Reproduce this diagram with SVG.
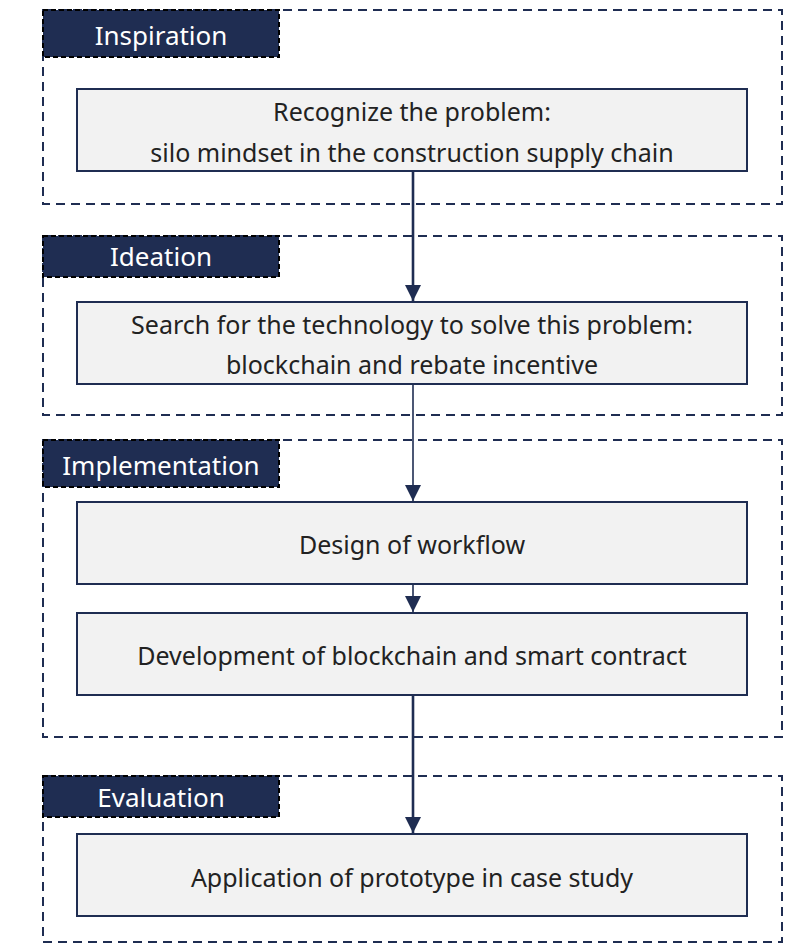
<svg xmlns="http://www.w3.org/2000/svg" width="787" height="949" viewBox="0 0 787 949">
  <defs>
    <style>
      .frame { fill: none; stroke: #1f2d52; stroke-width: 2; stroke-dasharray: 9 6; }
      .tag { fill: #1f2d52; stroke: #000; stroke-width: 2; stroke-dasharray: 5 3; }
      .tag-text { fill: #ffffff; font-family: "Noto Sans", "Open Sans", sans-serif; font-size: 26px; text-anchor: middle; }
      .box { fill: #f2f2f2; stroke: #1f2d52; stroke-width: 2; }
      .box-text { fill: #222222; font-family: "Noto Sans", "Open Sans", sans-serif; font-size: 25px; text-anchor: middle; }
      .link { stroke: #1f2d52; fill: none; }
    </style>
    <marker id="arrow" viewBox="0 0 10 10" refX="10" refY="5" markerUnits="userSpaceOnUse" markerWidth="16" markerHeight="16" orient="auto">
      <path d="M0,0 L10,5 L0,10 Z" fill="#1f2d52"/>
    </marker>
  </defs>

  <!-- stage frames -->
  <g id="stage-inspiration">
    <rect class="frame" x="43" y="10" width="739" height="194"/>
    <rect class="tag" x="43" y="10" width="236" height="47"/>
    <text class="tag-text" x="161" y="45">Inspiration</text>
  </g>
  <g id="stage-ideation">
    <rect class="frame" x="43" y="236" width="739" height="179"/>
    <rect class="tag" x="43" y="236" width="236" height="41"/>
    <text class="tag-text" x="161" y="266">Ideation</text>
  </g>
  <g id="stage-implementation">
    <rect class="frame" x="43" y="440" width="739" height="297"/>
    <rect class="tag" x="43" y="440" width="236" height="47"/>
    <text class="tag-text" x="161" y="475">Implementation</text>
  </g>
  <g id="stage-evaluation">
    <rect class="frame" x="43" y="776" width="739" height="166"/>
    <rect class="tag" x="43" y="776" width="236" height="41"/>
    <text class="tag-text" x="161" y="807">Evaluation</text>
  </g>

  <!-- connectors -->
  <g id="connectors">
    <line class="link" x1="413" y1="171" x2="413" y2="301" stroke-width="2.6" marker-end="url(#arrow)"/>
    <line class="link" x1="413" y1="384" x2="413" y2="501" stroke-width="1.6" marker-end="url(#arrow)"/>
    <line class="link" x1="413" y1="584" x2="413" y2="612" stroke-width="1.6" marker-end="url(#arrow)"/>
    <line class="link" x1="413" y1="695" x2="413" y2="833" stroke-width="2.6" marker-end="url(#arrow)"/>
  </g>

  <!-- process steps -->
  <g id="step-recognize">
    <rect class="box" x="77" y="89" width="670" height="82"/>
    <text class="box-text" x="412" y="121">Recognize the problem:</text>
    <text class="box-text" x="412" y="162">silo mindset in the construction supply chain</text>
  </g>
  <g id="step-search">
    <rect class="box" x="77" y="302" width="670" height="82"/>
    <text class="box-text" x="412" y="334">Search for the technology to solve this problem:</text>
    <text class="box-text" x="412" y="374">blockchain and rebate incentive</text>
  </g>
  <g id="step-design">
    <rect class="box" x="77" y="502" width="670" height="82"/>
    <text class="box-text" x="412" y="554">Design of workflow</text>
  </g>
  <g id="step-development">
    <rect class="box" x="77" y="613" width="670" height="82"/>
    <text class="box-text" x="412" y="665">Development of blockchain and smart contract</text>
  </g>
  <g id="step-application">
    <rect class="box" x="77" y="834" width="670" height="82"/>
    <text class="box-text" x="412" y="887">Application of prototype in case study</text>
  </g>
</svg>
